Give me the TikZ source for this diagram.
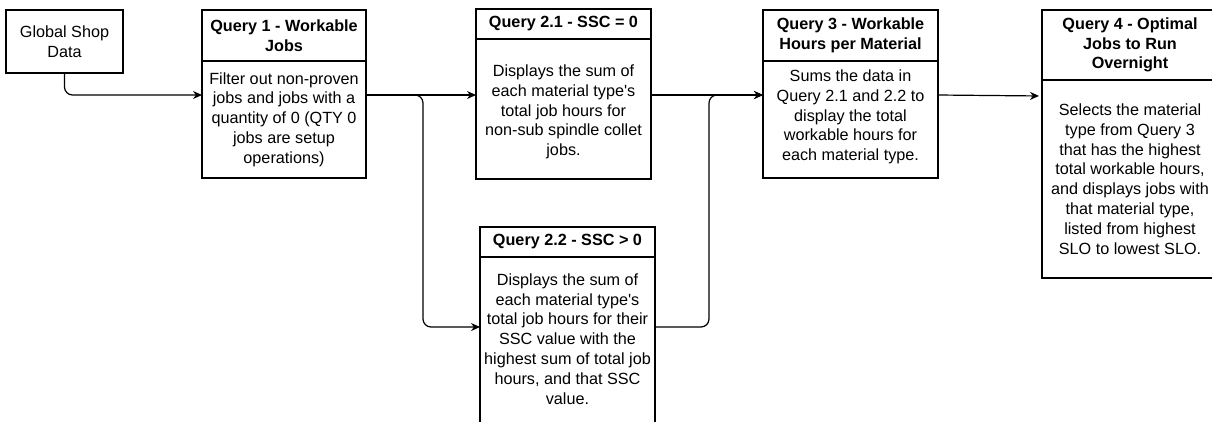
\documentclass[tikz,border=0pt]{standalone}
\usepackage{fontspec}
\setmainfont{Liberation Sans}
\newfontfamily\lsans{Liberation Sans}
\usetikzlibrary{arrows.meta}
\tikzset{
  basefont/.style={font=\lsans\fontsize{16.2}{19.8}\selectfont},
  box/.style={draw=black, line width=1.2pt, fill=white, inner sep=0pt, outer sep=0pt, align=center, basefont},
  hdr/.style={box, font=\lsans\fontsize{16.2}{19.5}\selectfont\bfseries},
  txt/.style={inner sep=0pt, align=center, basefont},
  conn/.style={draw=black, line width=1.2pt, rounded corners=8pt, -{Stealth[length=9pt,width=8pt]}}
}
\begin{document}
\begin{tikzpicture}[x=1pt, y=-1pt]
\useasboundingbox (0,0) rectangle (1212,421);
\fill[white] (0,0) rectangle (1212,421);
\clip (0,0) rectangle (1212,421);

% Global Shop Data
\node[box, minimum width=117pt, minimum height=63pt] (gsd) at (64.5,41.5) {Global Shop\\Data};

% Query 1
\node[hdr, minimum width=164pt, minimum height=51pt] (q1h) at (284,35.5) {Query 1 - Workable\\Jobs};
\node[box, minimum width=164pt, minimum height=117pt] (q1b) at (284,119.5) {Filter out non-proven\\jobs and jobs with a\\quantity of 0 (QTY 0\\jobs are setup\\operations)};

% Query 2.1
\node[hdr, minimum width=175pt, minimum height=30pt] (q21h) at (563.5,24) {Query 2.1 - SSC = 0};
\node[box, minimum width=175pt, minimum height=140pt] (q21b) at (563.5,109) {};
\node[txt] (q21t) at (563.5,112) {Displays the sum of\\each material type's\\total job hours for\\non-sub spindle collet\\jobs.};

% Query 2.2
\node[hdr, minimum width=175pt, minimum height=30pt] (q22h) at (567.5,242) {Query 2.2 - SSC > 0};
\node[box, minimum width=175pt, minimum height=183pt] (q22b) at (567.5,348.5) {};
\node[txt] (q22t) at (567.5,339) {Displays the sum of\\each material type's\\total job hours for their\\SSC value with the\\highest sum of total job\\hours, and that SSC\\value.};

% Query 3
\node[hdr, minimum width=175pt, minimum height=51pt] (q3h) at (850.5,35.5) {Query 3 - Workable\\Hours per Material};
\node[box, minimum width=175pt, minimum height=117pt] (q3b) at (850.5,119.5) {};
\node[txt] (q3t) at (850.5,117) {Sums the data in\\Query 2.1 and 2.2 to\\display the total\\workable hours for\\each material type.};

% Query 4
\node[hdr, minimum width=176pt, minimum height=70pt] (q4h) at (1130,45) {Query 4 - Optimal\\Jobs to Run\\Overnight};
\node[box, minimum width=176pt, minimum height=198pt] (q4b) at (1130,179) {Selects the material\\type from Query 3\\that has the highest\\total workable hours,\\and displays jobs with\\that material type,\\listed from highest\\SLO to lowest SLO.};

% Connectors
\draw[conn] (gsd.south) |- (q1b.west |- 0,95);
\draw[conn] (q1b.east |- 0,95) -- (q21b.west |- 0,95);
\draw[conn] (q1b.east |- 0,95) -| (423,327) -- (q22b.west |- 0,327);
\draw[conn] (q21b.east |- 0,95) -- (q3b.west |- 0,95);
\draw[conn] (q22b.east |- 0,327) -| (709,95) -- (q3b.west |- 0,95);
\draw[conn, shorten >=3pt] (q3b.east |- 0,95) -- (q4b.west |- 0,96);
\end{tikzpicture}
\end{document}
